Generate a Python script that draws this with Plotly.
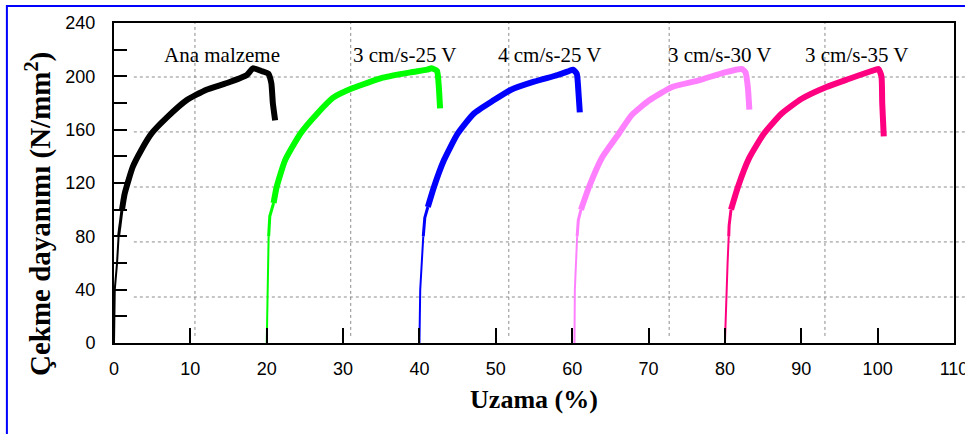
import plotly.graph_objects as go

# ---- data ----
names = ["Ana malzeme", "3 cm/s-25 V", "4 cm/s-25 V", "3 cm/s-30 V", "3 cm/s-35 V"]
colors = ["#000000", "#00ff00", "#0000ff", "#ff80ff", "#ff0080"]

ana_x = [0, 0.05, 0.1, 0.4, 0.6, 0.85, 1.05, 1.4, 2.45, 3.6, 4.9, 6.9, 9.5, 12.1, 14.8, 17.4, 18.2, 19.3, 20.2, 20.6, 20.8, 21.1]
ana_y = [0, 20, 40, 60, 80, 92, 100, 112, 132, 145, 157, 169, 182, 190, 195, 201, 206, 204, 202, 195, 180, 167]

g25_x = [20.0, 20.05, 20.1, 20.15, 20.25, 20.4, 20.9, 21.3, 22.4, 24.4, 26.6, 28.7, 31.2, 35.2, 38.8, 41.0, 41.6, 42.3, 42.5, 42.7]
g25_y = [0, 20, 40, 60, 80, 95, 105, 117, 137, 157, 172, 184, 191, 199, 203, 205, 206, 204, 195, 176]

b25_x = [40.0, 40.05, 40.1, 40.3, 40.5, 40.7, 41.1, 41.9, 43.2, 45.0, 47.1, 49.7, 52.0, 55.0, 58.1, 59.6, 60.1, 60.6, 60.8, 61.0]
b25_y = [0, 20, 40, 60, 80, 94, 102, 117, 137, 157, 172, 182, 190, 196, 201, 204, 205, 202, 190, 173]

v30_x = [60.3, 60.3, 60.35, 60.5, 60.65, 60.8, 61.15, 62.2, 63.9, 66.1, 67.8, 70.1, 73.1, 76.6, 80.0, 82.2, 82.7, 83.0, 83.2]
v30_y = [0, 20, 40, 60, 80, 92, 100, 117, 139, 157, 171, 182, 192, 197, 203, 205.5, 203, 192, 175]

p35_x = [80.0, 80.1, 80.2, 80.35, 80.5, 80.55, 80.8, 81.7, 83.2, 85.1, 87.4, 90.0, 93.3, 96.2, 99.2, 100.1, 100.5, 100.6, 100.8]
p35_y = [0, 20, 40, 60, 80, 88, 100, 117, 139, 157, 172, 183, 192, 198, 204, 205.5, 200, 180, 155]

label_x = [14.1, 38.1, 57.0, 79.3, 97.2]
label_y = [216, 216, 216, 216, 216]

x_ticks = [0, 10, 20, 30, 40, 50, 60, 70, 80, 90, 100, 110]
y_ticks = [0, 40, 80, 120, 160, 200, 240]

# (slightly offset) dashed grid of the original picture
grid_v = [10.6, 31.0, 51.7, 72.7, 93.1]
grid_h = [34.5, 75.8, 117, 158.3, 199.5]

series = [(ana_x, ana_y), (g25_x, g25_y), (b25_x, b25_y), (v30_x, v30_y), (p35_x, p35_y)]

XMAX, YMAX = 110, 240

fig = go.Figure()
for (xs, ys), c, n in zip(series, colors, names):
    k1 = next(i for i, v in enumerate(ys) if v >= 80)
    k2 = next(i for i, v in enumerate(ys) if v >= 100)
    # thin elastic part
    fig.add_trace(go.Scatter(x=xs[:k1 + 1], y=ys[:k1 + 1], mode="lines",
                             line=dict(color=c, width=2), showlegend=False, name=n))
    fig.add_trace(go.Scatter(x=xs[k1:k2 + 1], y=ys[k1:k2 + 1], mode="lines",
                             line=dict(color=c, width=3), showlegend=False, name=n))
    # thick (noisy) plastic part
    fig.add_trace(go.Scatter(x=xs[k2:], y=ys[k2:], mode="lines",
                             line=dict(color=c, width=6, shape="spline", smoothing=0.5),
                             showlegend=False, name=n))

for n, lx, ly in zip(names, label_x, label_y):
    fig.add_annotation(x=lx, y=ly, text=n, showarrow=False, xref="x", yref="y",
                       xanchor="center", yanchor="middle",
                       font=dict(family="Liberation Serif", size=21, color="black"))

# y axis title (drawn as annotation, it sits a bit low in the original)
fig.add_annotation(x=-0.0905, y=0.403, xref="paper", yref="paper", showarrow=False,
                   xanchor="center", yanchor="middle",
                   text="Çekme dayanımı (N/mm<sup>2</sup>)", textangle=-90,
                   font=dict(family="Liberation Serif", size=29, color="black", weight="bold"))

shapes = []
for gx in grid_v:
    shapes.append(dict(type="line", xref="paper", yref="paper", x0=gx / XMAX, x1=gx / XMAX,
                       y0=5.3 / YMAX, y1=1, line=dict(color="#8c8c8c", width=1, dash="dot"), layer="below"))
for gy in grid_h:
    shapes.append(dict(type="line", xref="paper", yref="paper", x0=2.6 / XMAX, x1=1.02,
                       y0=gy / YMAX, y1=gy / YMAX, line=dict(color="#8c8c8c", width=1, dash="dot"), layer="below"))
# blue outer frame
shapes.append(dict(type="rect", xref="paper", yref="paper", x0=-0.1275, x1=1.2, y0=-0.5, y1=1.053,
                   line=dict(color="#0000ff", width=2), fillcolor="rgba(0,0,0,0)"))

fig.update_layout(
    width=965, height=434,
    margin=dict(l=114, r=11, t=23, b=91),
    paper_bgcolor="white", plot_bgcolor="white",
    shapes=shapes,
    showlegend=False,
)
fig.update_xaxes(
    range=[0, XMAX], tickvals=x_ticks, ticktext=[str(v) for v in x_ticks],
    ticks="inside", ticklen=15, tickwidth=2, tickcolor="black",
    showline=True, linecolor="black", linewidth=2, mirror=True,
    showgrid=False, zeroline=False, ticklabelstandoff=8, ticklabeloverflow="allow",
    automargin=False,
    tickfont=dict(family="Liberation Sans", size=18, color="black"),
    title=dict(text="Uzama (%)", standoff=12,
               font=dict(family="Liberation Serif", size=26, color="black", weight="bold")),
)
fig.update_yaxes(
    range=[0, YMAX], tickvals=y_ticks, ticktext=[str(v) for v in y_ticks],
    ticks="inside", ticklen=13, tickwidth=2, tickcolor="black",
    minor=dict(dtick=20, tick0=0, ticks="inside", ticklen=13, tickwidth=2, tickcolor="black", showgrid=False),
    showline=True, linecolor="black", linewidth=2, mirror=True,
    showgrid=False, zeroline=False, ticklabelstandoff=13, ticklabeloverflow="allow",
    automargin=False,
    tickfont=dict(family="Liberation Sans", size=18, color="black"),
)

fig.write_html("out.html", config={"displayModeBar": False},
               post_script="document.body.style.margin='0';document.body.style.overflow='hidden';")
